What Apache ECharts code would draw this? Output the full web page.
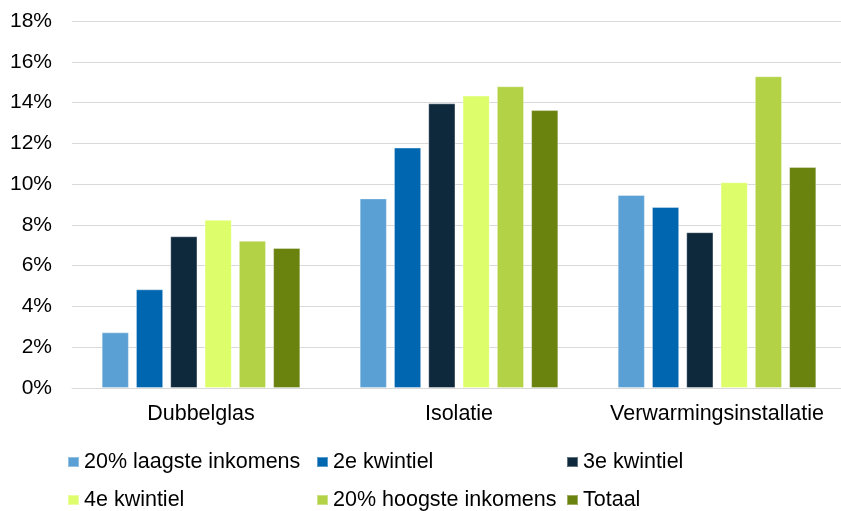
<!DOCTYPE html>
<html>
<head>
<meta charset="utf-8">
<script src="https://cdn.jsdelivr.net/npm/echarts@6/dist/echarts.min.js"></script>
<style>html,body{margin:0;padding:0;background:#fff;overflow:hidden}#c{width:846px;height:511px}</style>
</head>
<body>
<div id="c"></div>
<script>
const categories = ['Dubbelglas', 'Isolatie', 'Verwarmingsinstallatie'];
const seriesNames = ['20% laagste inkomens', '2e kwintiel', '3e kwintiel', '4e kwintiel', '20% hoogste inkomens', 'Totaal'];
const laagste = [2.73, 9.30, 9.47];
const kwintiel2 = [4.84, 11.79, 8.88];
const kwintiel3 = [7.44, 13.96, 7.64];
const kwintiel4 = [8.25, 14.34, 10.09];
const hoogste = [7.22, 14.80, 15.29];
const totaal = [6.87, 13.63, 10.84];
const yTicks = [0, 2, 4, 6, 8, 10, 12, 14, 16, 18];

const values = [laagste, kwintiel2, kwintiel3, kwintiel4, hoogste, totaal];
const colors = ['#5BA0D4', '#0066B0', '#0E283C', '#DEFD6A', '#B3D246', '#6A820E'];
const FONT = 'Liberation Sans, Arial, sans-serif';

const legendPos = [
  {left: 67, top: 451}, {left: 316, top: 451}, {left: 566, top: 451},
  {left: 67, top: 489}, {left: 316, top: 489}, {left: 566, top: 489}
];

const chart = echarts.init(document.getElementById('c'));
chart.setOption({
  animation: false,
  color: colors,
  grid: {left: 72, right: 0, top: 21, bottom: 123, containLabel: false},
  legend: seriesNames.map((n, i) => ({
    data: [n], left: legendPos[i].left, top: legendPos[i].top, padding: 0,
    icon: 'rect', itemWidth: 11, itemHeight: 10, itemGap: 0,
    textStyle: {fontFamily: FONT, fontSize: 21.5, color: '#000', lineHeight: 22}
  })),
  xAxis: {
    type: 'category', data: categories,
    axisLine: {show: true, lineStyle: {color: '#D9D9D9', width: 1}},
    axisTick: {show: false},
    axisLabel: {fontFamily: FONT, fontSize: 21.5, color: '#000', margin: 15, interval: 0}
  },
  yAxis: {
    type: 'value', min: yTicks[0], max: yTicks[yTicks.length - 1], interval: 2,
    axisLabel: {fontFamily: FONT, fontSize: 21, color: '#000', margin: 20, formatter: v => v + '%'},
    splitLine: {lineStyle: {color: '#D9D9D9', width: 1}},
    axisLine: {show: false}, axisTick: {show: false}
  },
  series: seriesNames.map((n, i) => ({
    name: n, type: 'bar', data: values[i],
    barGap: '26%', barCategoryGap: '23%',
    itemStyle: {color: colors[i], borderColor: 'rgba(255,255,255,0.35)', borderWidth: 1}
  }))
});
</script>
</body>
</html>
